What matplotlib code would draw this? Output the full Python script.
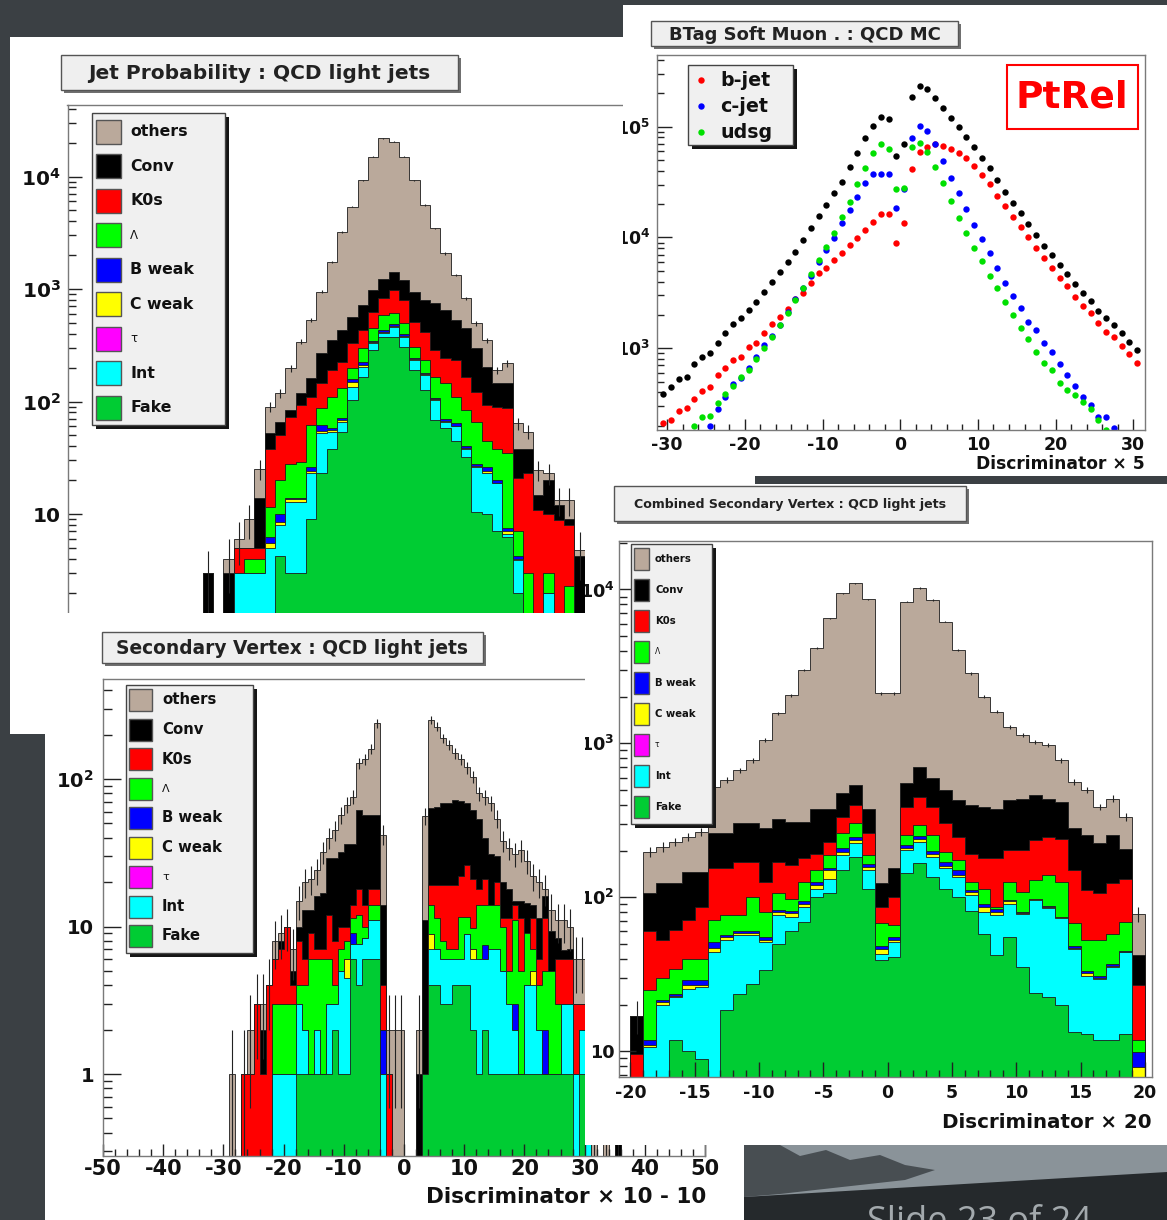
import numpy as np
import matplotlib
matplotlib.use("Agg")
import matplotlib.pyplot as plt
from matplotlib.patches import Rectangle, Polygon
from matplotlib.ticker import LogLocator, MultipleLocator, NullFormatter

plt.rcParams["font.family"] = ["DejaVu Sans"]
plt.rcParams["mathtext.fontset"] = "dejavusans"

W, H = 1167, 1220
BG = "#3b4044"
INK = "#111111"
FRAME = "#7a7a7a"

# legend entries (top of the stack first)
LEGEND = [("others", "#baa99b"), ("Conv", "#000000"), ("K0s", "#ff0000"),
          ("Λ", "#00ff00"), ("B weak", "#0000ff"), ("C weak", "#ffff00"),
          ("τ", "#ff00ff"), ("Int", "#00ffff"), ("Fake", "#00cc33")]
# colours of the drawn stack layers (tau is empty everywhere)
STACK_COLORS = ["#baa99b", "#000000", "#ff0000", "#00ff00", "#0000ff",
                "#ffff00", "#00ffff", "#00cc33"]

# ---------------- Jet Probability (stack tops, bins -2 .. 34) ----------------
jp_edges = np.arange(-2, 36)
jp_others = [3, 0, 4, 6, 9, 25, 90, 118, 197, 340, 530, 947, 1750, 3230, 5390, 9300,
             15000, 21800, 20400, 15000, 9300, 5570, 3460, 2070, 1330, 826, 495, 352,
             190, 218, 64, 54, 24.6, 23, 13.3, 13.3, 4.8]
jp_conv = [3, 0, 3, 5, 5, 14, 52, 66, 84, 118, 161, 268, 352, 432, 568, 720, 980, 1240,
           1430, 1200, 947, 798, 745, 650, 530, 447, 297, 204, 145, 145, 38, 38, 14.8,
           20, 12, 9.1, 4.2]
jp_k0s = [0, 0, 0, 5, 5, 5, 38, 50, 73, 93, 110, 145, 190, 226, 329, 432, 628, 826, 980,
          798, 512, 418, 287, 242, 234, 166, 122, 93, 90, 87, 20.7, 23, 10.8, 10.1, 8.8,
          8, 0]
jp_lambda = [0, 0, 0, 3, 4, 4, 11.6, 20, 28, 29, 62, 87, 110, 131, 197, 297, 447, 587,
             608, 495, 307, 234, 166, 145, 110, 84, 66, 45, 38, 34.6, 7, 3, 0, 3, 0, 2.3, 0]
jp_bweak = [0, 0, 0, 3, 3, 3, 6.3, 10, 14, 14, 26, 62, 58, 72, 160, 225, 345, 430, 490,
            400, 245, 180, 108, 70, 64, 40, 28, 26, 20, 7.5, 4.2, 0, 0, 2, 0, 0, 0]
jp_cweak = [0, 0, 0, 3, 3, 3, 5.5, 8.5, 13.5, 13.5, 24, 55, 56, 68, 150, 212, 335, 415,
            470, 385, 238, 175, 105, 67, 61, 39, 27, 24, 19, 7, 4, 0, 0, 2, 0, 0, 0]
jp_int = [0, 0, 0, 3, 3, 3, 5, 8, 12.9, 12.9, 23, 52, 54, 66, 135, 204, 329, 404, 462,
          377, 234, 172, 103, 66, 60, 38, 26, 23, 18.7, 6.7, 3.9, 0, 0, 2, 0, 0, 0]
jp_fake = [0, 0, 0, 0, 0, 0, 0, 4.2, 3, 3, 9.1, 23, 38, 54, 103, 166, 287, 377, 377, 307,
           190, 126, 68, 58, 45, 32, 10.5, 10.1, 7, 6.3, 2, 0, 0, 0, 0, 0, 0]

# ---------------- BTag Soft Muon (bin centres -30.5 .. 30.5) ----------------
mu_x = np.arange(-30.5, 31.0, 1.0)
mu_all = [385, 451, 525, 555, 718, 841, 914, 1125, 1365, 1648, 1892, 2218, 2638, 3246,
          3996, 4918, 6053, 7450, 9490, 12100, 15600, 19600, 25000, 31900, 43000, 58300,
          78500, 101400, 123000, 117000, 54400, 69300, 186500, 234500, 218700, 180300,
          146300, 119000, 98600, 81200, 65100, 52500, 42100, 33000, 25900, 20300, 16500,
          13150, 10540, 8380, 6950, 5650, 4650, 3780, 3130, 2690, 2170, 1865, 1625, 1365,
          1150, 966]
mu_b = [210, 225, 272, 288, 349, 412, 451, 574, 660, 785, 829, 1035, 1125, 1365, 1660,
        1930, 2250, 2770, 3180, 3860, 4750, 5270, 6270, 7200, 8560, 9820, 11700, 13900,
        16200, 16200, 8980, 13600, 41500, 58700, 66000, 69300, 66900, 62900, 57400, 52500,
        44500, 36600, 30200, 23800, 19400, 15400, 12360, 10180, 8090, 6580, 5350, 4280,
        3650, 2920, 2410, 2070, 1680, 1415, 1275, 1050, 883, 732]
mu_c = [105, 118, 132, 146, 160, 172, 200, 282, 366, 473, 536, 660, 829, 1072, 1291, 1625,
        2113, 2770, 3525, 4495, 6053, 7710, 9960, 13600, 17700, 23400, 30800, 37400, 37000,
        37000, 18600, 27200, 78500, 101400, 92000, 69800, 49000, 34600, 25000, 17950, 12970,
        9690, 7200, 5270, 3910, 2965, 2295, 1740, 1462, 1109, 933, 718, 574, 457, 366, 308,
        242, 242, 192, 165, 145, 125]
mu_udsg = [120, 135, 150, 168, 200, 242, 247, 319, 385, 457, 547, 638, 796, 1014, 1257,
           1625, 2070, 2730, 3475, 4690, 6270, 8270, 10900, 15400, 21050, 30200, 42100,
           58300, 69300, 62900, 27200, 28200, 66000, 71700, 59500, 43600, 30800, 21350,
           14900, 10900, 8090, 6180, 4530, 3475, 2600, 2000, 1535, 1205, 933, 732, 638, 490,
           421, 379, 330, 282, 225, 183, 160, 140, 125, 110]

# ---------------- Secondary Vertex (bins -29 .. 35) ----------------
sv_edges = np.arange(-29, 37)
sv_others = [1, 0, 1, 2, 3, 3, 4, 8, 9, 10, 7, 15, 20, 21, 24, 32, 40, 45, 57, 67,
             76, 128, 136, 160, 239, 42, 2, 2, 2, 0, 0, 2, 56, 252, 227, 189, 170, 150, 136, 120,
             104, 80, 75, 69, 54, 38, 34, 31, 33, 28, 22, 20, 18, 13, 11, 11, 10, 6, 6, 3,
             1, 0, 1, 0, 1]
sv_conv = [0, 0, 1, 1, 3, 2, 4, 6, 8, 10, 5, 10, 13, 13, 16, 17, 29, 29, 32, 36,
           36, 62, 57, 57, 57, 14, 1, 0, 0, 0, 0, 1, 11, 64, 65, 69, 69, 72, 71, 69,
           62, 54, 40, 31, 30, 20, 18, 15, 15, 14.5, 14, 11.5, 16, 9.3, 8.4, 6.9, 7, 3, 3, 2,
           0, 0, 0, 0, 1]
sv_k0s = [0, 0, 1, 1, 3, 1, 4, 6, 7, 10, 4, 8, 6, 9, 7, 7, 12, 8, 10, 10,
          14, 18, 14, 18, 18, 4, 1, 0, 0, 0, 0, 0, 1, 19, 19, 19, 19, 19, 22, 26,
          21, 18, 21, 14, 20, 11.5, 11.5, 14, 11.5, 9, 11.5, 6, 11.5, 5, 6, 6, 6, 3, 3, 2,
          0, 0, 0, 0, 0]
sv_lambda = [0, 0, 0, 0, 0, 0, 0, 3, 3, 3, 3, 4, 4, 6, 6, 6, 6, 4, 7, 8,
             11.5, 12, 10, 14, 14, 2, 0, 0, 0, 0, 0, 0, 1, 14, 11.5, 8, 7, 7, 11.6, 11.6,
             9.8, 14, 14, 14, 14, 10, 5, 11, 5, 9, 7, 4, 5, 5, 3, 3, 3, 1, 2, 1,
             0, 0, 0, 0, 0]
sv_bweak = [0, 0, 0, 0, 0, 0, 0, 1, 1, 1, 1, 3, 2, 1, 2, 1, 3, 3, 5, 6,
            9, 7.6, 8.4, 11, 11, 2, 0, 0, 0, 0, 0, 0, 1, 8.9, 7, 6, 6, 6, 6, 8.9,
            7, 6, 7.5, 7, 7, 5, 3, 3, 1, 4, 5, 2, 2, 1, 1, 3, 3, 1, 2, 1,
            0, 0, 0, 0, 0]
sv_cweak = [0, 0, 0, 0, 0, 0, 0, 1, 1, 1, 1, 3, 2, 1, 2, 1, 3, 3, 5, 6,
            7.6, 7.6, 8.4, 11, 11, 1, 0, 0, 0, 0, 0, 0, 1, 8.9, 7, 6, 6, 6, 6, 8.9,
            7, 6, 6, 7, 7, 5, 3, 2, 1, 4, 5, 2, 1, 1, 1, 3, 3, 1, 2, 1,
            0, 0, 0, 0, 0]
sv_int = [0, 0, 0, 0, 0, 0, 0, 1, 1, 1, 1, 3, 2, 1, 2, 1, 3, 3, 5, 4.5,
          7.6, 7.6, 8.4, 11, 11, 1, 0, 0, 0, 0, 0, 0, 1, 7, 7, 6, 6, 6, 6, 8.9,
          6, 6, 6, 7, 7, 5, 3, 2, 1, 4, 4, 2, 1, 1, 1, 3, 3, 1, 2, 1,
          0, 0, 0, 0, 0]
sv_fake = [0, 0, 0, 0, 0, 0, 0, 0, 0, 0, 0, 1, 1, 1, 1, 1, 1, 2, 1, 1,
           6, 4, 6, 6, 6, 0, 0, 0, 0, 0, 0, 0, 1, 4, 4, 3, 3, 4, 4, 4,
           2, 1, 2, 1, 1, 1, 1, 1, 1, 1, 1, 1, 1, 1, 1, 1, 1, 0, 1, 0,
           0, 0, 0, 0, 0]

# ---------------- Combined Secondary Vertex (bins -20 .. 19) ----------------
csv_edges = np.arange(-20, 21)
csv_others = [17, 197, 213, 229, 247, 267, 523, 578, 671, 778, 1050, 1567, 2060, 3000,
              4140, 6490, 9440, 10970, 8630, 2110, 2110, 8340, 10200, 8550, 6180, 4040,
              2850, 2010, 1607, 1283, 1132, 1026, 975, 778, 563, 497, 387, 438, 333, 78]
csv_conv = [17, 106, 123, 123, 146, 146, 260, 260, 302, 302, 280, 325, 309, 309, 377, 377,
            473, 536, 377, 123, 154, 550, 705, 592, 497, 428, 397, 387, 377, 428, 438, 461,
            438, 417, 280, 254, 224, 254, 207, 42]
csv_k0s = [9.6, 60, 53, 61, 71, 87, 154, 154, 170, 170, 126, 170, 162, 179, 192, 229, 333,
           397, 260, 87, 101, 387, 450, 387, 302, 247, 192, 179, 179, 202, 202, 235, 247,
           241, 150, 111, 106, 123, 132, 27]
csv_lambda = [0, 25, 30, 34, 40, 40, 71, 77, 77, 101, 80, 106, 98, 126, 150, 188, 260, 302,
              188, 68, 66, 254, 294, 254, 197, 174, 126, 114, 87, 126, 108, 129, 139, 126,
              68, 53, 53, 58, 69, 11.8]
csv_bweak = [0, 11.8, 21.5, 23.6, 29, 29, 51, 57, 60, 60, 55, 83, 82, 95, 125, 155, 210,
             245, 165, 48, 55, 220, 250, 200, 170, 150, 112, 90, 84, 96, 80, 98, 88, 75, 48,
             33, 31, 37, 45, 9.9]
csv_cweak = [0, 11, 21, 23, 27, 27, 47, 55, 59, 59, 53, 80, 79, 91, 120, 150, 198, 235, 158,
             46, 53, 210, 240, 190, 160, 140, 108, 86, 80, 94, 79, 97, 86, 74, 47, 32, 30,
             36, 44, 7.9]
csv_int = [0, 10.6, 20, 22.5, 25.5, 26, 44, 53, 57, 57, 51, 77, 75, 87, 114, 132, 188, 224,
           150, 43, 51, 202, 229, 183, 154, 136, 103, 80, 77, 91, 78, 96, 85, 73, 46, 31,
           29.6, 35, 44, 5]
csv_fake = [0, 0, 0, 11.8, 10, 8.9, 5, 18.4, 23.7, 27.5, 33.6, 50, 60, 69, 101, 106, 150,
            183, 114, 39, 41, 143, 166, 136, 114, 101, 82, 58, 42, 55, 35, 24, 22.5, 19.9,
            13.3, 13, 11.8, 11.8, 13, 4]

fig = plt.figure(figsize=(W / 100, H / 100), dpi=100, facecolor=BG)


def frac(x0, y0, x1, y1):
    return [x0 / W, 1 - y1 / H, (x1 - x0) / W, (y1 - y0) / H]


def pixel_axes(x0, y0, x1, y1, z):
    ax = fig.add_axes(frac(x0, y0, x1, y1), zorder=z)
    ax.set_xlim(x0, x1)
    ax.set_ylim(y1, y0)
    ax.axis("off")
    return ax


def white(ax, x0, y0, x1, y1):
    ax.add_patch(Rectangle((x0, y0), x1 - x0, y1 - y0, fc="white", ec="none"))


def title_box(ax, x0, y0, x1, y1, text, size):
    ax.add_patch(Rectangle((x0 + 3, y0 + 3), x1 - x0, y1 - y0, fc="#707070", ec="none"))
    ax.add_patch(Rectangle((x0, y0), x1 - x0, y1 - y0, fc="#efefef", ec="#555555", lw=1))
    ax.text((x0 + x1) / 2, (y0 + y1) / 2 + 1, text, ha="center", va="center",
            fontsize=size, fontweight="bold", color="#222222")


def stack_legend(ax, box, row0, step, sq_x, sq_w, sq_h, txt_x, size):
    x0, y0, x1, y1 = box
    ax.add_patch(Rectangle((x0 + 4, y0 + 4), x1 - x0, y1 - y0, fc="#151515", ec="none"))
    ax.add_patch(Rectangle((x0, y0), x1 - x0, y1 - y0, fc="#f0f0f0", ec="#444444", lw=1))
    for i, (name, color) in enumerate(LEGEND):
        y = row0 + i * step
        ax.add_patch(Rectangle((sq_x, y - sq_h / 2), sq_w, sq_h, fc=color,
                               ec="#555555", lw=1))
        greek = name in ("Λ", "τ")
        ax.text(txt_x, y, name, ha="left", va="center", color=INK,
                fontsize=size * (0.75 if greek else 1.0),
                fontweight="normal" if greek else "bold")


def draw_stack(ax, edges, tops):
    floor = 1e-3
    for vals, color in zip(tops, STACK_COLORS):
        v = np.asarray(vals, dtype=float)
        v = np.where(v > 0, v, floor)
        ax.stairs(v, edges, baseline=floor, fill=True, facecolor=color,
                  edgecolor="#1c1c1c", linewidth=0.6)
    tot = np.asarray(tops[0], dtype=float)
    centres = 0.5 * (edges[:-1] + edges[1:])
    m = tot > 0
    err = np.sqrt(tot[m])
    ax.errorbar(centres[m], tot[m], yerr=[np.minimum(err, tot[m] * 0.999), err],
                fmt="none", ecolor="#222222", elinewidth=0.8)


def root_frame(ax):
    for s in ax.spines.values():
        s.set_color(FRAME)
        s.set_linewidth(1.0)
    ax.tick_params(which="both", direction="in", colors="#222222", width=1,
                   labelcolor=INK)


def log_minor(ax):
    ax.yaxis.set_minor_locator(LogLocator(base=10, subs=np.arange(2, 10), numticks=30))
    ax.yaxis.set_minor_formatter(NullFormatter())


def p10(n):
    return r"$\mathbf{10^{%d}}$" % n


# ======================= Jet Probability panel =======================
bg1 = pixel_axes(10, 37, 623, 734, 1)
white(bg1, 10, 37, 623, 734)
title_box(bg1, 61, 55, 458, 90, "Jet Probability : QCD light jets", 14.5)

ax1 = fig.add_axes(frac(67.5, 105, 623, 613), zorder=2)
ax1.set_yscale("log")
draw_stack(ax1, jp_edges, [jp_others, jp_conv, jp_k0s, jp_lambda, jp_bweak, jp_cweak,
                           jp_int, jp_fake])
ax1.set_xlim(-15.1, 38.7)
ax1.set_ylim(1.32, 43200)
root_frame(ax1)
ax1.spines["bottom"].set_visible(False)
ax1.spines["right"].set_visible(False)
ax1.set_xticks([])
ax1.set_yticks([10, 100, 1000, 10000], labels=["10", p10(2), p10(3), p10(4)],
               fontsize=14.5, fontweight="bold")
log_minor(ax1)
ax1.tick_params(axis="y", which="major", length=10, pad=5)
ax1.tick_params(axis="y", which="minor", length=5.5)

ov1 = pixel_axes(10, 37, 623, 734, 3)
stack_legend(ov1, (92, 113, 225, 425), 132, 34.5, 96, 25, 24, 130, 11.3)

# ======================= BTag Soft Muon panel =======================
bg2 = pixel_axes(623, 5, 1167, 484, 4)
white(bg2, 623, 5, 1167, 476)
white(bg2, 623, 476, 755, 484)
title_box(bg2, 651, 21, 958, 46, "BTag Soft Muon . : QCD MC", 13)

ax2 = fig.add_axes(frac(657, 55, 1145, 430), zorder=5)
ax2.set_yscale("log")
ax2.plot(mu_x, mu_all, "o", ms=4.6, color="black", mec="none")
ax2.plot(mu_x, mu_b, "o", ms=4.6, color="#ff0000", mec="none")
ax2.plot(mu_x, mu_c, "o", ms=4.6, color="#0000ff", mec="none")
ax2.plot(mu_x, mu_udsg, "o", ms=4.6, color="#00e000", mec="none")
ax2.set_xlim(-31.3, 31.5)
ax2.set_ylim(183, 4.43e5)
root_frame(ax2)
ax2.set_xticks([-30, -20, -10, 0, 10, 20, 30],
               labels=["-30", "-20", "-10", "0", "10", "20", "30"],
               fontsize=12.5, fontweight="bold")
ax2.xaxis.set_minor_locator(MultipleLocator(2))
ax2.set_yticks([1000, 10000, 100000], labels=[p10(3), p10(4), p10(5)],
               fontsize=12.5, fontweight="bold")
log_minor(ax2)
ax2.tick_params(axis="x", which="major", length=8, pad=4)
ax2.tick_params(axis="x", which="minor", length=4)
ax2.tick_params(axis="y", which="major", length=11, pad=5)
ax2.tick_params(axis="y", which="minor", length=5)
for t in ax2.yaxis.get_major_ticks():
    t.label1.set_clip_box(bg2.bbox)
    t.label1.set_clip_on(True)

ov2 = pixel_axes(623, 5, 1167, 484, 6)
ov2.text(1145, 464, "Discriminator × 5", ha="right", va="center", fontsize=12.3,
         fontweight="bold", color=INK)
ov2.add_patch(Rectangle((692, 69), 105, 80, fc="#151515", ec="none"))
ov2.add_patch(Rectangle((688, 65), 105, 80, fc="#f0f0f0", ec="#444444", lw=1))
for i, (name, color) in enumerate([("b-jet", "#ff0000"), ("c-jet", "#0000ff"),
                                   ("udsg", "#00e000")]):
    y = 80 + i * 26
    ov2.plot([701], [y], "o", ms=4.6, color=color, mec="none")
    ov2.text(720, y, name, ha="left", va="center", fontsize=13.7, fontweight="bold",
             color=INK)
ov2.add_patch(Rectangle((1007, 65), 131, 64, fc="white", ec="#ff0000", lw=1.5))
ov2.text(1072, 98, "PtRel", ha="center", va="center", fontsize=27, fontweight="bold",
         color="#ff0000")

# ======================= Secondary Vertex panel =======================
bg3 = pixel_axes(45, 613, 745, 1220, 7)
white(bg3, 45, 613, 745, 1220)
title_box(bg3, 102, 632, 483, 663, "Secondary Vertex : QCD light jets", 13.4)

ax3 = fig.add_axes(frac(103, 679, 705, 1156), zorder=8)
ax3.set_yscale("log")
draw_stack(ax3, sv_edges, [sv_others, sv_conv, sv_k0s, sv_lambda, sv_bweak, sv_cweak,
                           sv_int, sv_fake])
ax3.set_xlim(-50, 50)
ax3.set_ylim(0.278, 477)
root_frame(ax3)
ax3.set_xticks(np.arange(-50, 51, 10),
               labels=["-50", "-40", "-30", "-20", "-10", "0", "10", "20", "30", "40", "50"],
               fontsize=15, fontweight="bold")
ax3.xaxis.set_minor_locator(MultipleLocator(2))
ax3.set_yticks([1, 10, 100], labels=["1", "10", p10(2)], fontsize=14, fontweight="bold")
log_minor(ax3)
ax3.tick_params(axis="x", which="major", length=9, pad=2.5)
ax3.tick_params(axis="x", which="minor", length=5)
ax3.tick_params(axis="y", which="major", length=13, pad=6.5)
ax3.tick_params(axis="y", which="minor", length=6.5)

ov3 = pixel_axes(45, 613, 745, 1220, 9)
ov3.text(706, 1197, "Discriminator × 10 - 10", ha="right", va="center", fontsize=15.5,
         fontweight="bold", color=INK)
stack_legend(ov3, (126, 685, 253, 953), 700, 29.5, 129, 23, 22, 162, 10.7)

# ======================= Combined Secondary Vertex panel =======================
bg4 = pixel_axes(585, 484, 1167, 1145, 10)
white(bg4, 585, 484, 1167, 1145)
title_box(bg4, 614, 486, 966, 521, "Combined Secondary Vertex : QCD light jets", 9.1)

ax4 = fig.add_axes(frac(618.6, 541, 1152, 1077), zorder=11)
ax4.set_yscale("log")
draw_stack(ax4, csv_edges, [csv_others, csv_conv, csv_k0s, csv_lambda, csv_bweak,
                            csv_cweak, csv_int, csv_fake])
ax4.set_xlim(-20.92, 20.56)
ax4.set_ylim(6.8, 20650)
root_frame(ax4)
ax4.set_xticks(np.arange(-20, 21, 5),
               labels=["-20", "-15", "-10", "-5", "0", "5", "10", "15", "20"],
               fontsize=12.5, fontweight="bold")
ax4.xaxis.set_minor_locator(MultipleLocator(1))
ax4.set_yticks([10, 100, 1000, 10000], labels=["10", p10(2), p10(3), p10(4)],
               fontsize=12.7, fontweight="bold")
log_minor(ax4)
ax4.tick_params(axis="x", which="major", length=11, pad=5)
ax4.tick_params(axis="x", which="minor", length=5)
ax4.tick_params(axis="y", which="major", length=12, pad=3)
ax4.tick_params(axis="y", which="minor", length=6)
for t in ax4.yaxis.get_major_ticks():
    t.label1.set_clip_box(bg4.bbox)
    t.label1.set_clip_on(True)

ov4 = pixel_axes(585, 484, 1167, 1145, 12)
ov4.text(1152, 1122, "Discriminator × 20", ha="right", va="center", fontsize=14.3,
         fontweight="bold", color=INK)
stack_legend(ov4, (631, 544, 712, 824), 559, 31, 634, 15, 22, 655, 7.3)

# ======================= slide footer photo =======================
ph = pixel_axes(744, 1145, 1167, 1220, 13)
ph.add_patch(Rectangle((744, 1145), 423, 75, fc="#25292c", ec="none"))
ph.add_patch(Polygon([(744, 1145), (1167, 1145), (1167, 1172), (744, 1197)],
                     closed=True, fc="#8a9399", ec="none"))
ph.add_patch(Polygon([(744, 1145), (780, 1145), (800, 1156), (826, 1150), (850, 1160),
                      (880, 1155), (905, 1165), (935, 1170), (905, 1180), (860, 1185),
                      (815, 1190), (780, 1194), (744, 1197)],
                     closed=True, fc="#2c3135", ec="none", alpha=0.7))
ph.text(867, 1205, "Slide 23 of 24", ha="left", va="top", fontsize=26,
        family="Open Sans", color="#a3a9ad", clip_on=True)

fig.savefig("out.png", dpi=100, facecolor=fig.get_facecolor())
